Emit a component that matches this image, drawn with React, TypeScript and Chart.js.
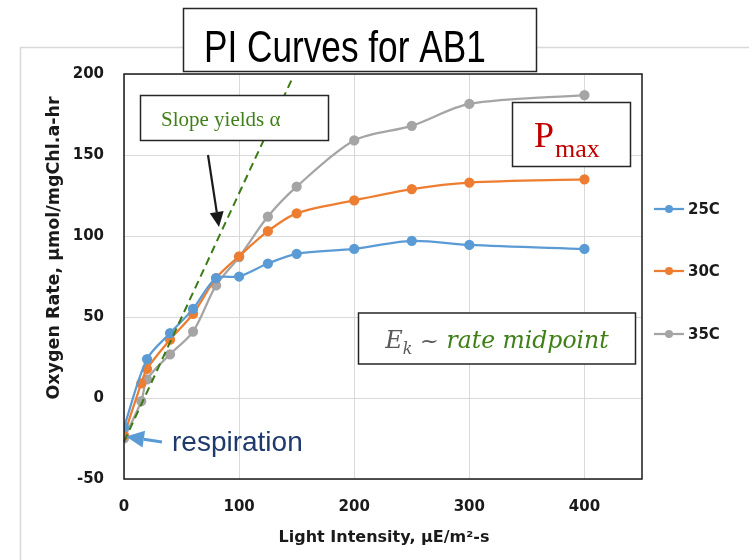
import { useEffect, useRef } from "react";
import { Chart, registerables } from "chart.js";
Chart.register(...registerables);

// ---- data ----
const seriesNames = ["25C", "30C", "35C"];
const light25 = [0, 20, 40, 60, 80, 100, 125, 150, 200, 250, 300, 400];
const rate25 = [-18, 24, 40, 55, 74, 75, 83, 89, 92, 97, 94.5, 92];
const light30 = [0, 15, 20, 40, 60, 80, 100, 125, 150, 200, 250, 300, 400];
const rate30 = [-23, 9, 18, 36, 52, 74, 87.5, 103, 114, 122, 129, 133, 135];
const light35 = [0, 15, 20, 40, 60, 80, 100, 125, 150, 200, 250, 300, 400];
const rate35 = [-25, -2, 11.5, 27, 41, 69.5, 87, 112, 130.5, 159, 168, 181.5, 187];
const slopeLineX = [0, 146];
const slopeLineY = [-27, 197];
const xTicks = [0, 100, 200, 300, 400];
const yTicks = [-50, 0, 50, 100, 150, 200];

const seriesColors = ["#5b9bd5", "#ed7d31", "#a5a5a5"];
const TICK_FONT = "DejaVu Sans";
const GREEN = "#3f7f17";

function drawArrow(ctx: CanvasRenderingContext2D, x1: number, y1: number, x2: number, y2: number, color: string, width: number, headLen: number, headW: number) {
  const ang = Math.atan2(y2 - y1, x2 - x1);
  const bx = x2 - headLen * Math.cos(ang);
  const by = y2 - headLen * Math.sin(ang);
  ctx.strokeStyle = color;
  ctx.lineWidth = width;
  ctx.beginPath();
  ctx.moveTo(x1, y1);
  ctx.lineTo(bx, by);
  ctx.stroke();
  ctx.fillStyle = color;
  ctx.beginPath();
  ctx.moveTo(x2, y2);
  ctx.lineTo(bx + (headW / 2) * Math.sin(ang), by - (headW / 2) * Math.cos(ang));
  ctx.lineTo(bx - (headW / 2) * Math.sin(ang), by + (headW / 2) * Math.cos(ang));
  ctx.closePath();
  ctx.fill();
}

function box(ctx: CanvasRenderingContext2D, x: number, y: number, w: number, h: number) {
  ctx.fillStyle = "#ffffff";
  ctx.fillRect(x, y, w, h);
  ctx.strokeStyle = "#262626";
  ctx.lineWidth = 1.5;
  ctx.strokeRect(x, y, w, h);
}

const overlay = {
  id: "overlay",
  beforeDraw(chart: any) {
    const ctx = chart.ctx as CanvasRenderingContext2D;
    ctx.save();
    ctx.fillStyle = "#ffffff";
    ctx.fillRect(0, 0, chart.width, chart.height);
    ctx.strokeStyle = "#d9d9d9";
    ctx.lineWidth = 1.5;
    ctx.beginPath();
    ctx.moveTo(20.5, chart.height);
    ctx.lineTo(20.5, 47.5);
    ctx.lineTo(chart.width, 47.5);
    ctx.stroke();
    ctx.restore();
  },
  afterDatasetsDraw(chart: any) {
    const ctx = chart.ctx as CanvasRenderingContext2D;
    const xs = chart.scales.x;
    const ys = chart.scales.y;
    ctx.save();
    ctx.strokeStyle = "#3a7a12";
    ctx.lineWidth = 2;
    ctx.setLineDash([8, 5]);
    ctx.beginPath();
    ctx.moveTo(xs.getPixelForValue(slopeLineX[0]), ys.getPixelForValue(slopeLineY[0]));
    ctx.lineTo(xs.getPixelForValue(slopeLineX[1]), ys.getPixelForValue(slopeLineY[1]));
    ctx.stroke();
    ctx.restore();
  },
  afterDraw(chart: any) {
    const ctx = chart.ctx as CanvasRenderingContext2D;
    const a = chart.chartArea;
    ctx.save();
    // plot border
    ctx.strokeStyle = "#1a1a1a";
    ctx.lineWidth = 1.5;
    ctx.strokeRect(a.left, a.top, a.right - a.left, a.bottom - a.top);

    // title box
    box(ctx, 183.5, 8.5, 353, 63);
    ctx.fillStyle = "#000000";
    ctx.textAlign = "left";
    ctx.textBaseline = "alphabetic";
    ctx.save();
    ctx.translate(204, 62);
    ctx.scale(0.8, 1);
    ctx.font = "44px 'Liberation Sans'";
    ctx.fillText("PI Curves for AB1", 0, 0);
    ctx.restore();

    // slope box
    box(ctx, 140.5, 95.5, 188, 45);
    ctx.fillStyle = GREEN;
    ctx.font = "21px 'Liberation Serif'";
    ctx.fillText("Slope yields α", 161, 126);
    drawArrow(ctx, 208, 155, 219, 227, "#1a1a1a", 2.2, 15, 14);

    // Pmax box
    box(ctx, 512.5, 102.5, 118, 64);
    ctx.fillStyle = "#c00000";
    ctx.font = "36px 'Liberation Serif'";
    ctx.fillText("P", 534, 147);
    ctx.font = "26px 'Liberation Serif'";
    ctx.fillText("max", 555, 157);

    // Ek box
    box(ctx, 358.5, 313, 277, 51);
    const parts: [string, string, string, number][] = [
      ["E", "italic 24px 'DejaVu Serif'", "#595959", 0],
      ["k", "italic 16px 'DejaVu Serif'", "#595959", 6],
      [" ~ ", "23px 'DejaVu Serif'", "#595959", 0],
      ["rate midpoint", "italic 23.5px 'DejaVu Serif'", GREEN, 0],
    ];
    let total = 0;
    for (const p of parts) {
      ctx.font = p[1];
      total += ctx.measureText(p[0]).width;
    }
    let px = 358.5 + 277 / 2 - total / 2;
    for (const p of parts) {
      ctx.font = p[1];
      ctx.fillStyle = p[2];
      ctx.fillText(p[0], px, 348 + p[3]);
      px += ctx.measureText(p[0]).width;
    }

    // respiration
    drawArrow(ctx, 162, 442, 126, 436.5, "#5b9bd5", 3, 18, 17);
    ctx.fillStyle = "#1f3a6e";
    ctx.font = "28px 'Liberation Sans'";
    ctx.fillText("respiration", 172, 451);

    // legend
    ctx.font = `bold 15px '${TICK_FONT}'`;
    ctx.textBaseline = "middle";
    const ly = [209, 271, 334];
    seriesNames.forEach((n, i) => {
      ctx.strokeStyle = seriesColors[i];
      ctx.lineWidth = 2.25;
      ctx.beginPath();
      ctx.moveTo(654, ly[i]);
      ctx.lineTo(684, ly[i]);
      ctx.stroke();
      ctx.fillStyle = seriesColors[i];
      ctx.beginPath();
      ctx.arc(669, ly[i], 4, 0, Math.PI * 2);
      ctx.fill();
      ctx.fillStyle = "#1a1a1a";
      ctx.fillText(n, 688, ly[i] + 1);
    });

    // axis titles
    ctx.fillStyle = "#1a1a1a";
    ctx.textAlign = "center";
    ctx.font = `bold 16px '${TICK_FONT}'`;
    ctx.fillText("Light Intensity, μE/m²-s", 384, 538);
    ctx.translate(54, 248);
    ctx.rotate(-Math.PI / 2);
    ctx.font = `bold 17.5px '${TICK_FONT}'`;
    ctx.fillText("Oxygen Rate, μmol/mgChl.a-hr", 0, 0);
    ctx.restore();
  },
};

export default function App() {
  const ref = useRef<HTMLCanvasElement>(null);
  useEffect(() => {
    const mk = (xs: number[], ys: number[]) => xs.map((x, i) => ({ x, y: ys[i] }));
    const series = [mk(light25, rate25), mk(light30, rate30), mk(light35, rate35)];
    const chart = new Chart(ref.current!, {
      type: "line",
      data: {
        datasets: series.map((d, i) => ({
          label: seriesNames[i],
          data: d,
          borderColor: seriesColors[i],
          backgroundColor: seriesColors[i],
          pointBackgroundColor: seriesColors[i],
          pointBorderColor: seriesColors[i],
          pointRadius: 4,
          borderWidth: 2.25,
          tension: 0.3,
          fill: false,
        })),
      },
      options: {
        animation: false,
        responsive: false,
        maintainAspectRatio: false,
        devicePixelRatio: 1,
        layout: { padding: { left: 0, top: 74, right: 107, bottom: 0 } },
        plugins: { legend: { display: false }, tooltip: { enabled: false } },
        scales: {
          x: {
            type: "linear",
            min: 0,
            max: 450,
            afterBuildTicks: (s: any) => {
              s.ticks = xTicks.map((v) => ({ value: v }));
            },
            afterFit: (s: any) => {
              s.height = 81;
            },
            grid: { color: "#d9d9d9", lineWidth: 1, drawTicks: false },
            border: { display: false },
            ticks: {
              padding: 19,
              color: "#1a1a1a",
              font: { family: TICK_FONT, size: 15, weight: "bold" },
              maxRotation: 0,
            },
          },
          y: {
            type: "linear",
            min: -50,
            max: 200,
            afterBuildTicks: (s: any) => {
              s.ticks = yTicks.map((v) => ({ value: v }));
            },
            afterFit: (s: any) => {
              s.width = 124;
            },
            grid: { color: "#d9d9d9", lineWidth: 1, drawTicks: false },
            border: { display: false },
            ticks: {
              padding: 20,
              color: "#1a1a1a",
              font: { family: TICK_FONT, size: 15, weight: "bold" },
            },
          },
        },
      },
      plugins: [overlay],
    } as any);
    return () => chart.destroy();
  }, []);
  return (
    <div style={{ position: "fixed", left: 0, top: 0, width: 749, height: 560, background: "#fff" }}>
      <canvas ref={ref} width={749} height={560} style={{ display: "block", width: 749, height: 560 }} />
    </div>
  );
}
